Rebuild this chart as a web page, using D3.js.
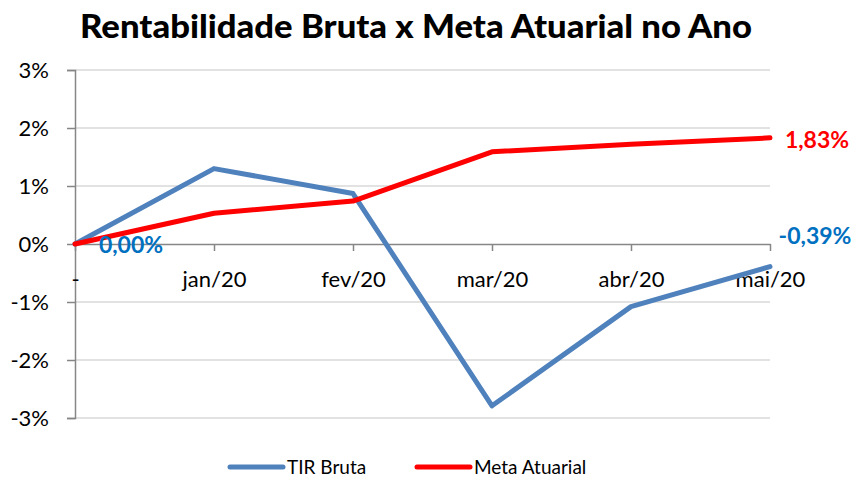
<!DOCTYPE html>
<html>
<head>
<meta charset="utf-8">
<script src="https://cdn.jsdelivr.net/npm/d3@7"></script>
<style>
  body { margin: 0; background: #fff; }
  svg { font-family: Lato, "Open Sans", sans-serif; }
</style>
</head>
<body>
<svg width="852" height="477"></svg>
<script>
// chart data
var categories = ["-", "jan/20", "fev/20", "mar/20", "abr/20", "mai/20"];
var tirBruta = [0, 1.30, 0.87, -2.79, -1.08, -0.39];
var metaAtuarial = [0, 0.53, 0.74, 1.59, 1.72, 1.83];
var yTicks = [3, 2, 1, 0, -1, -2, -3];

var svg = d3.select("svg");
var plotLeft = 75, plotRight = 770, plotTop = 70, plotBottom = 418;

var x = d3.scalePoint().domain(categories).range([plotLeft, plotRight]);
var y = d3.scaleLinear().domain([-3, 3]).range([plotBottom, plotTop]);

// title
svg.append("text")
    .attr("x", 416).attr("y", 38)
    .attr("text-anchor", "middle")
    .style("font-weight", "900")
    .style("font-size", "33px")
    .attr("textLength", 672)
    .attr("lengthAdjust", "spacingAndGlyphs")
    .text("Rentabilidade Bruta x Meta Atuarial no Ano");

// gridlines
svg.append("g").selectAll("line")
    .data(yTicks.filter(function(d) { return d !== 0; }))
    .enter().append("line")
    .attr("x1", plotLeft).attr("x2", plotRight)
    .attr("y1", function(d) { return y(d); })
    .attr("y2", function(d) { return y(d); })
    .attr("stroke", "#D9D9D9").attr("stroke-width", 1.5);

// y axis
var yAxis = svg.append("g")
    .attr("transform", "translate(" + plotLeft + ",0)")
    .call(d3.axisLeft(y).tickValues(yTicks).tickSize(8).tickPadding(18)
        .tickFormat(function(d) { return d + "%"; }));
yAxis.select(".domain").attr("stroke", "#868686").attr("stroke-width", 1.5);
yAxis.selectAll(".tick line").attr("stroke", "#868686").attr("stroke-width", 1.5);
yAxis.selectAll("text").style("font-size", "22px").attr("fill", "#000")
    .attr("font-family", "Lato, 'Open Sans', sans-serif");

// x axis on the zero line
var xAxis = svg.append("g")
    .attr("transform", "translate(0," + y(0) + ")")
    .call(d3.axisBottom(x).tickSize(7).tickPadding(20).tickSizeOuter(0));
xAxis.select(".domain").attr("stroke", "#868686").attr("stroke-width", 1.5);
xAxis.selectAll(".tick line").attr("stroke", "#868686").attr("stroke-width", 1.5);
xAxis.selectAll("text").style("font-size", "22px").attr("fill", "#000")
    .attr("font-family", "Lato, 'Open Sans', sans-serif");

// lines
var line = d3.line()
    .x(function(d, i) { return x(categories[i]); })
    .y(function(d) { return y(d); });

svg.append("path").datum(tirBruta)
    .attr("d", line).attr("fill", "none")
    .attr("stroke", "#4F81BD").attr("stroke-width", 5)
    .attr("stroke-linejoin", "round").attr("stroke-linecap", "round");

svg.append("path").datum(metaAtuarial)
    .attr("d", line).attr("fill", "none")
    .attr("stroke", "#FF0000").attr("stroke-width", 5)
    .attr("stroke-linejoin", "round").attr("stroke-linecap", "round");

function fmt(v) { return v.toFixed(2).replace(".", ",") + "%"; }

// data labels
svg.append("text")
    .attr("x", x(categories[0]) + 56).attr("y", y(tirBruta[0]) + 9)
    .attr("text-anchor", "middle")
    .style("font-weight", "bold").style("font-size", "23px")
    .attr("fill", "#0070C0")
    .text(fmt(tirBruta[0]));

svg.append("text")
    .attr("x", x(categories[5]) + 45).attr("y", y(tirBruta[5]) - 23)
    .attr("text-anchor", "middle")
    .style("font-weight", "bold").style("font-size", "23px")
    .attr("fill", "#0070C0")
    .text(fmt(tirBruta[5]));

svg.append("text")
    .attr("x", x(categories[5]) + 47).attr("y", y(metaAtuarial[5]) + 10)
    .attr("text-anchor", "middle")
    .style("font-weight", "bold").style("font-size", "23px")
    .attr("fill", "#FF0000")
    .text(fmt(metaAtuarial[5]));

// legend
var legend = [
  { name: "TIR Bruta", color: "#4F81BD", x: 230 },
  { name: "Meta Atuarial", color: "#FF0000", x: 417 }
];
var lg = svg.append("g").selectAll("g").data(legend).enter().append("g")
    .attr("transform", function(d) { return "translate(" + d.x + ",467)"; });
lg.append("line").attr("x1", 0).attr("x2", 53).attr("y1", 0).attr("y2", 0)
    .attr("stroke", function(d) { return d.color; })
    .attr("stroke-width", 5).attr("stroke-linecap", "round");
lg.append("text").attr("x", 57).attr("y", 7)
    .style("font-size", "19px")
    .text(function(d) { return d.name; });
</script>
</body>
</html>
